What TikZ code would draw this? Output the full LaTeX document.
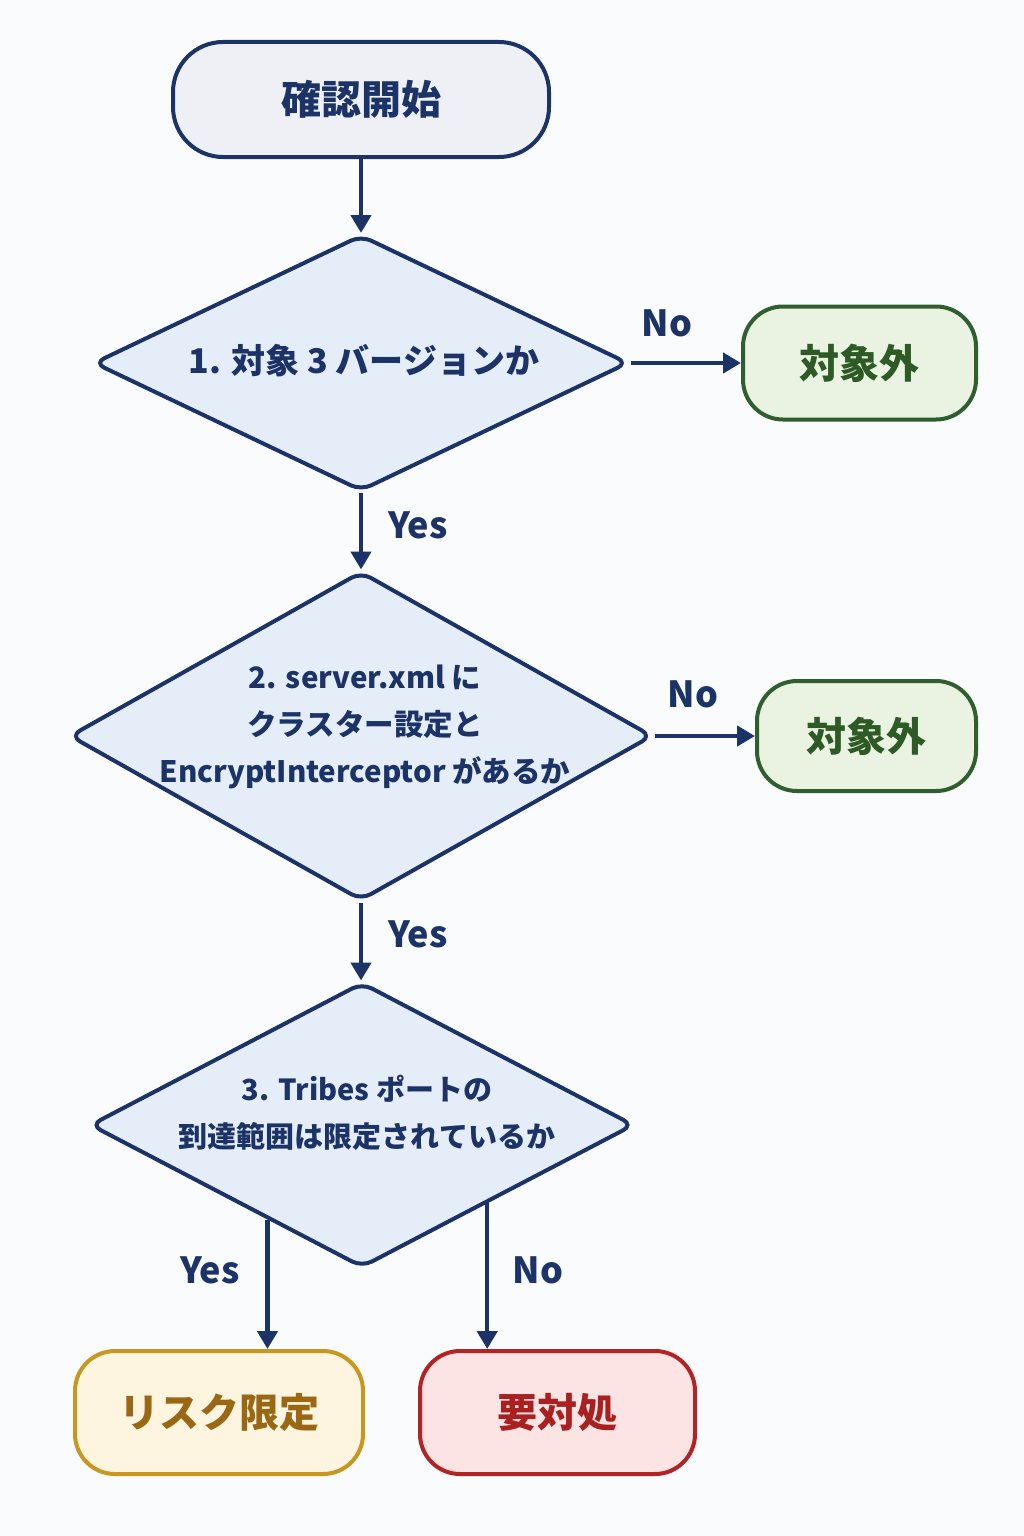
\documentclass[tikz,border=0pt]{standalone}
\usepackage{fontspec}
\setmainfont{Noto Sans CJK JP}
\usetikzlibrary{shapes.geometric,arrows.meta,calc}
\definecolor{navy}{HTML}{1B3366}
\definecolor{startfill}{HTML}{EEF0F5}
\definecolor{decfill}{HTML}{E5EDF9}
\definecolor{gline}{HTML}{2F5F2F}
\definecolor{gfill}{HTML}{EAF3E2}
\definecolor{gtext}{HTML}{2E5A26}
\definecolor{yline}{HTML}{C9961F}
\definecolor{yfill}{HTML}{FDF5DF}
\definecolor{ytext}{HTML}{9A6814}
\definecolor{rline}{HTML}{B22424}
\definecolor{rfill}{HTML}{FCE3E4}
\definecolor{rtext}{HTML}{A82020}
\definecolor{bg}{HTML}{FAFBFC}
\tikzset{
  x=1pt,y=-1pt,
  term/.style={rectangle, rounded corners=50pt, line width=4pt, inner sep=0pt, font=\bfseries\fontsize{40}{48}\selectfont},
  decision/.style={diamond, draw=navy, fill=decfill, line width=4pt, inner sep=0pt, rounded corners=11pt},
  dtext/.style 2 args={align=center, text=navy, font=\bfseries\fontsize{#1}{#2}\selectfont},
  conn/.style={draw=navy, line width=4.5pt, -{Triangle[length=18pt,width=20pt]}},
  lbl/.style={text=navy, font=\bfseries\fontsize{36}{40}\selectfont}
}
\begin{document}
\begin{tikzpicture}
\fill[bg] (0,0) rectangle (1024,1536);
\useasboundingbox (0,0) rectangle (1024,1536);

\node[term, draw=navy, fill=startfill, text=navy, minimum width=376pt, minimum height=115pt] (start) at (361,99.5) {確認開始};

\node[decision, minimum width=535pt, minimum height=256pt] (d1) at (361,363) {};
\node[dtext={34}{48}] (d1t) at (364,361) {1. 対象 3 バージョンか};

\node[term, draw=gline, fill=gfill, text=gtext, rounded corners=40pt, minimum width=233pt, minimum height=113pt] (o1) at (859.5,363) {対象外};

\node[decision, minimum width=583pt, minimum height=329pt] (d2) at (361,736) {};
\node[dtext={29.5}{47}] (d2t) at (365,727) {2. server.xml に\\クラスター設定と\\EncryptInterceptor があるか};

\node[term, draw=gline, fill=gfill, text=gtext, rounded corners=40pt, minimum width=219pt, minimum height=110pt] (o2) at (866.5,736) {対象外};

\node[decision, minimum width=544pt, minimum height=285pt] (d3) at (362,1125) {};
\node[dtext={29}{47}] (d3t) at (367,1113) {3. Tribes ポートの\\到達範囲は限定されているか};

\node[term, draw=yline, fill=yfill, text=ytext, rounded corners=40pt, minimum width=288pt, minimum height=123pt] (r1) at (219,1412.5) {リスク限定};
\node[term, draw=rline, fill=rfill, text=rtext, rounded corners=40pt, minimum width=275pt, minimum height=123pt] (r2) at (557.5,1412.5) {要対処};

\draw[conn] (start.south) -- (start.south |- d1.north);
\draw[conn] (d1.east) -- (d1.east -| o1.west);
\node[lbl] (n1) at (667,323) {No};
\draw[conn] (d1.south) -- (d1.south |- d2.north);
\node[lbl] (y1) at (418,525) {Yes};
\draw[conn] (d2.east) -- (d2.east -| o2.west);
\node[lbl] (n2) at (693,694) {No};
\draw[conn] (d2.south) -- (d2.south |- d3.north);
\node[lbl] (y2) at (418,934) {Yes};

\coordinate (ys) at ($(d3.west)!0.655!(d3.south)$);
\coordinate (ns) at ($(d3.south)!0.457!(d3.east)$);
\draw[conn] (ys) -- (ys |- r1.north);
\draw[conn] (ns) -- (ns |- r2.north);
\node[lbl] (y3) at (210,1270) {Yes};
\node[lbl] (n3) at (538,1270) {No};
\end{tikzpicture}
\end{document}
